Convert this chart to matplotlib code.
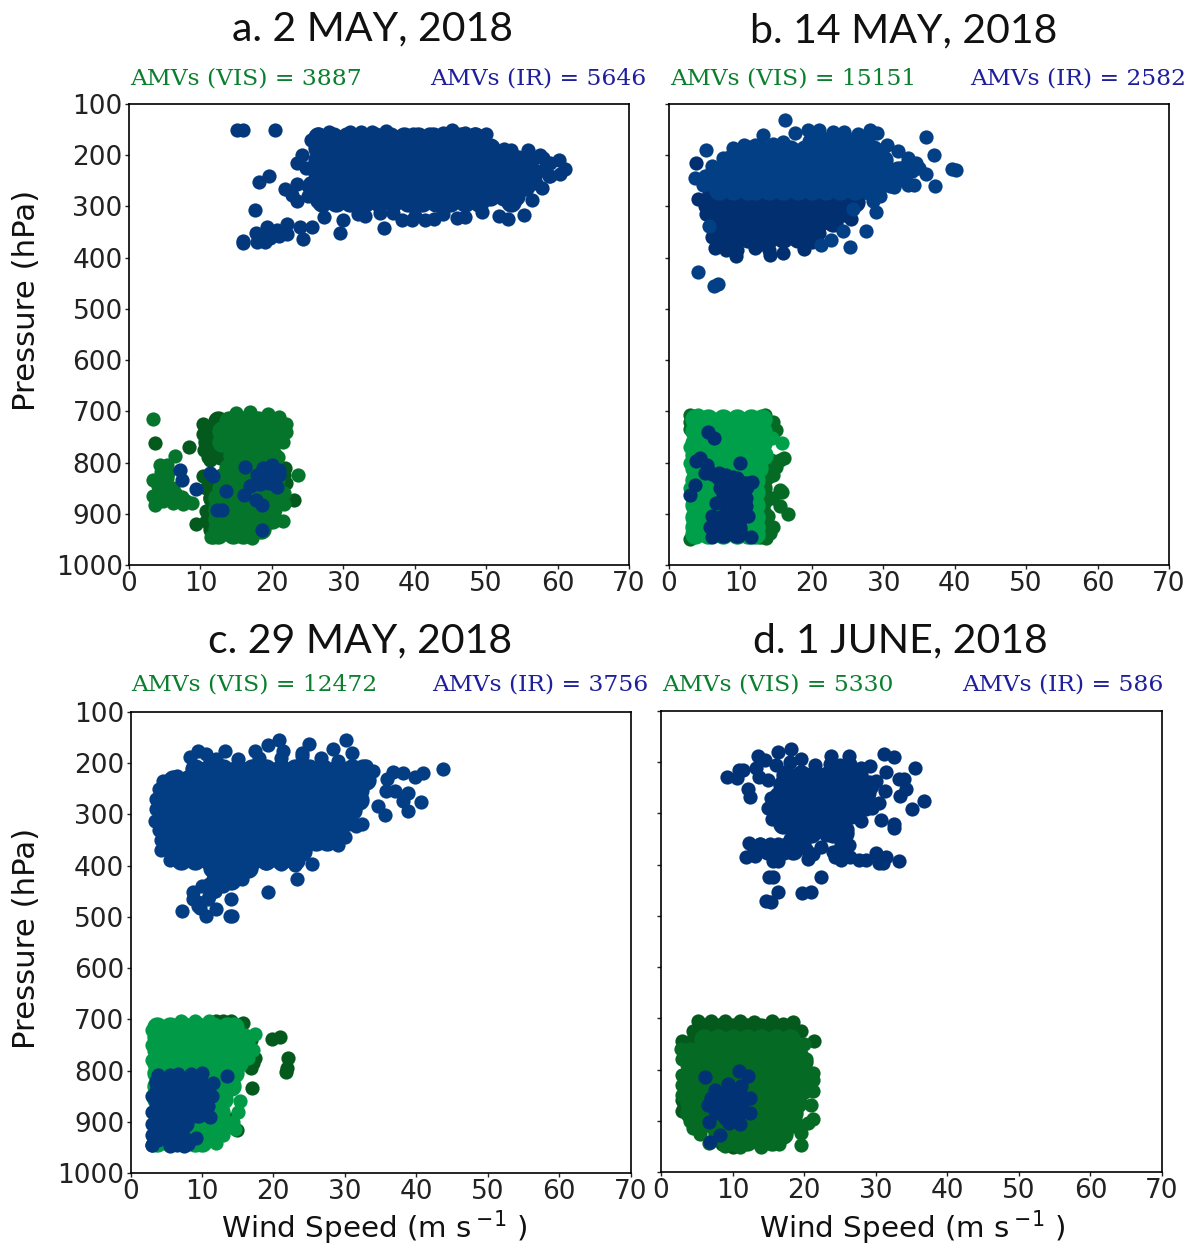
import matplotlib
matplotlib.use("Agg")
import matplotlib.pyplot as plt

titles = ["a. 2 MAY, 2018", "b. 14 MAY, 2018", "c. 29 MAY, 2018", "d. 1 JUNE, 2018"]
vis_counts = [3887, 15151, 12472, 5330]
ir_counts = [5646, 2582, 3756, 586]
pressure_ticks = [100, 200, 300, 400, 500, 600, 700, 800, 900, 1000]
speed_ticks = [0, 10, 20, 30, 40, 50, 60, 70]

# the solid parts of each cloud are read row by row (pressure, then speeds) and drawn with
# wide dots; the x_ lists are single dots read along the edges and outliers
# panel a
a_ir_p = [165, 185, 210, 235, 260, 280, 292]
a_ir_v = [
    [26.5, 28.5, 30.5, 32.5, 34.5, 36.5, 38.5, 40.5, 42.5, 44.5, 46.5, 48.5],
    [26.5, 28.5, 30.5, 32.5, 34.5, 36.5, 38.5, 40.5, 42.5, 44.5, 46.5, 48.5, 50.5],
    [26.5, 28.5, 30.5, 32.5, 34.5, 36.5, 38.5, 40.5, 42.5, 44.5, 46.5, 48.5, 50.5, 52.5, 54.5, 56],
    [26.5, 28.5, 30.5, 32.5, 34.5, 36.5, 38.5, 40.5, 42.5, 44.5, 46.5, 48.5, 50.5, 52.5, 54.5, 56.5],
    [26.5, 28.5, 30.5, 32.5, 34.5, 36.5, 38.5, 40.5, 42.5, 44.5, 46.5, 48.5, 50.5, 52.5, 54.5, 55.5],
    [26.5, 28.5, 30.5, 32.5, 34.5, 36.5, 38.5, 40.5, 42.5, 44.5, 46.5, 48.5, 50.5, 52.5, 54],
    [27, 29, 31, 33, 35, 37, 39, 41, 43, 45, 47, 49, 53.5],
]
a_ir_x_v = [15.1, 15.9, 20.5, 24.2, 23.5, 24.8, 19.6, 18.2, 23.5, 21.9, 22.8, 23.5, 17.7, 27.3, 30, 29.5, 35.7, 35.2,
            38.2, 39.6, 41.5, 42.7, 45.9, 49.4, 51.8, 53, 55.3, 56.4, 57.8, 60.2, 61.1, 60.3, 58.8, 55.8, 57.6, 45.2,
            16, 17.8, 17.9, 19.3, 19, 20.5, 22.1, 22.1, 24, 25.6, 24.3, 19.8, 16, 21,
            26.5, 28, 31, 32.5, 34, 36, 39.7, 42, 44, 47, 48.5, 50, 52.5, 53.5, 25.5, 25, 25.3, 32, 37, 33, 40, 44, 47, 58, 59,
            18.5, 20.7, 25, 26.3, 58.3, 59, 57]
a_ir_x_p = [151, 151, 151, 199, 215, 225, 240, 252, 257, 265, 277, 289, 306, 321, 327, 351, 342, 313,
            327, 326, 326, 325, 323, 310, 318, 324, 316, 287, 264, 210, 227, 236, 240, 189, 199, 151,
            368, 352, 370, 340, 370, 352, 334, 354, 340, 340, 363, 362, 372, 358,
            158, 154, 154, 154, 155, 152, 158, 158, 157, 157, 158, 158, 188, 190, 170, 280, 255, 314, 312, 318, 318, 315, 320, 205, 215,
            358, 346, 260, 290, 225, 240, 255]
a_ir_low_p = [818, 835]
a_ir_low_v = [
    [19, 20.2],
    [18.5, 19.8],
]
a_ir_low_x_v = [7.2, 7.4, 9.4, 11.4, 11.8, 13.6, 16.3, 16.1, 17.8, 18.6, 12.3, 13, 18.6, 18.8, 20, 21, 17.9, 19.4, 17.2, 18.4, 20.7, 20, 19, 21,
                19.8, 18, 16.9, 20.3]
a_ir_low_x_p = [814, 834, 852, 821, 826, 855, 809, 863, 873, 883, 892, 893, 931, 811, 804, 815, 824, 827, 843, 842, 847, 825, 815, 825,
                835, 835, 845, 815]
a_vis_p = [718, 738, 760, 785, 810, 830, 850, 870, 890, 910, 930, 940]
a_vis_v = [
    [14, 16, 18, 19],
    [13, 15, 17, 19, 20.5],
    [13, 15, 17, 19, 20],
    [14.5, 16, 18, 20],
    [14, 16, 18, 20],
    [13, 15, 17, 19, 20.5],
    [13, 15, 17, 19, 20.5],
    [12.5, 14.5, 16.5, 18.5, 20.5],
    [12.5, 14.5, 16.5, 18.5, 20],
    [12.5, 14.5, 16.5, 18.5, 20],
    [12.5, 14.5, 16.5, 18.5],
    [12.5, 14.5, 16],
]
a_vis_x_v = [3.3, 6.5, 4.3, 5.3, 4.5, 5.5, 3.3, 4.3, 5.3, 4, 5.2, 6.2, 3.4, 4.5, 5.6, 6.6, 3.6, 4.8, 6.2, 7.4, 8, 8.8, 7.5,
             23.7, 21.6, 20.8, 21.7, 11.5, 22, 22, 21.5, 21.7, 15, 17, 21, 19.5, 17.2]
a_vis_x_p = [715, 787, 805, 805, 818, 820, 834, 830, 830, 845, 845, 850, 865, 860, 860, 862, 882, 875, 879, 868, 875, 878, 880,
             824, 915, 790, 860, 945, 725, 740, 760, 880, 703, 702, 712, 705, 948]
a_dark_p = [718, 738, 760, 785, 840, 870, 905, 930]
a_dark_v = [
    [12.5],
    [11, 12.8],
    [11, 12.8],
    [12.9],
    [11.8],
    [11.8],
    [11.8],
    [11.8],
]
a_dark_x_v = [3.6, 8.4, 23.1, 9.4, 10.5, 11, 11.4, 10.4, 10.4, 10.3, 10.8, 11.3, 10.8, 10.8, 11.8, 21.7, 22, 21.9]
a_dark_x_p = [762, 770, 874, 920, 775, 790, 795, 827, 725, 745, 850, 870, 895, 915, 945, 825, 840, 810]

# panel b
b_ir_p = [175, 190, 210, 230, 250, 268]
b_ir_v = [
    [20, 22, 24, 26, 27.5],
    [11, 13, 15, 17, 19, 21, 23, 25, 27, 28.5],
    [8.5, 10.5, 12.5, 14.5, 16.5, 18.5, 20.5, 22.5, 24.5, 26.5, 28.5, 30],
    [6.5, 8.5, 10.5, 12.5, 14.5, 16.5, 18.5, 20.5, 22.5, 24.5, 26.5, 28.5, 30.5, 32, 33],
    [6, 8, 10, 12, 14, 16, 18, 20, 22, 24, 26, 28, 30, 31],
    [7, 9, 11, 12, 14, 16, 18, 20, 22, 24, 26, 28, 29],
]
b_ir_x_v = [16.3, 5.2, 3.7, 36, 37.1, 39.6, 40.2, 36, 37.3, 34.3, 33.5, 29, 27.6, 24.3, 25.4, 22.7, 21.3, 5.6, 4.1, 6.3, 6.9,
            13.1, 17.7, 19.5, 21, 23, 24.5, 26.5, 28.1, 29.1, 30.5, 32, 33.5, 34.6, 35, 9, 10.5, 7.5, 6, 5, 4.7, 12, 14.5, 16, 31, 32.5, 29.5, 28.5,
            6.5, 5.8, 7, 12, 16, 8.6, 15, 25.8, 33, 34, 32.5, 31.5]
b_ir_x_p = [132, 189, 245, 164, 199, 227, 228, 236, 260, 258, 258, 311, 347, 347, 380, 366, 375, 339, 428, 455, 451,
            160, 157, 151, 151, 155, 155, 158, 151, 157, 181, 192, 205, 215, 225, 185, 180, 205, 222, 240, 258, 180, 178, 175, 260, 245, 280, 290,
            265, 255, 250, 265, 245, 240, 200, 305, 222, 230, 248, 262]
b_dark_p = [275, 292, 310, 330, 350, 362]
b_dark_v = [
    [6, 8, 10, 12, 14, 16, 18],
    [6, 8, 10, 12, 14, 16, 18, 20, 22, 24, 26],
    [6.5, 8.5, 10.5, 12.5, 14.5, 16.5, 18.5, 20.5, 22.5, 24.5],
    [7, 9, 11, 13, 15, 17, 19, 21, 23],
    [8, 10, 12, 14, 16, 18, 20],
    [9, 11, 14, 16, 18],
]
b_dark_x_v = [3.8, 4, 9.4, 14.1, 5, 5.2, 6, 6.4, 8, 9.5, 12, 14, 15.9, 18.9, 20, 7, 21, 19, 12.5, 25.5]
b_dark_x_p = [215, 285, 397, 394, 300, 315, 360, 381, 385, 385, 382, 385, 390, 384, 370, 370, 352, 370, 375, 325]
b_vis_p = [714, 738, 762, 786, 810, 834, 858, 882, 906, 925, 940]
b_vis_v = [
    [3.6, 5.5, 7.5, 9.5, 11.5, 13],
    [3.6, 5.5, 7.5, 9.5, 11.5, 13],
    [3.6, 5.5, 7.5, 9.5, 11.5, 13],
    [3.6, 5.5, 7.5, 9.5, 11.5, 13.2],
    [3.6, 5.5, 7.5, 9.5, 11, 12.5],
    [3.6, 5.5, 7.5, 9.5, 11, 12],
    [3.6, 5.5, 7.5, 9.5, 11, 12],
    [3.6, 5.5, 7.5, 9.5, 11, 12],
    [3.6, 5.5, 7.5, 9.5, 11, 12],
    [3.6, 5.5, 7.5, 9.5, 11, 12],
    [3.6, 5.5, 7.5, 9.5, 11, 12],
]
b_vis_dark_p = [800, 825, 850, 875, 900, 925, 940]
b_vis_dark_v = [
    [14.2],
    [13.6],
    [13],
    [13],
    [13],
    [13],
    [12.8],
]
b_vis_x_v = [4, 14.4, 15.8, 3, 3, 3]
b_vis_x_p = [708, 752, 761, 770, 800, 850]
b_vis_dark_x_v = [3, 3, 3, 3.2, 3, 13.5, 13.7, 14.5, 15, 16.1, 15.5, 15, 14.5, 15.5, 15.8, 14.6, 15.6, 16.6, 14.6, 14.2, 13.6, 13.8]
b_vis_dark_x_p = [708, 720, 735, 945, 950, 708, 725, 720, 736, 791, 795, 808, 825, 853, 858, 870, 884, 900, 925, 938, 948, 905]
b_ir_low_p = [845, 870, 890, 910, 928, 938]
b_ir_low_v = [
    [10.5],
    [9.5],
    [8.5, 10],
    [7.5, 9.5],
    [7.5, 9.5],
    [7.5, 9.5],
]
b_ir_low_x_v = [5.4, 6.3, 3.8, 4.4, 5.3, 9.9, 5, 6.9, 3.6, 2.9, 7.1, 11.6, 10, 10.4, 6.6, 8.6, 8, 6.5, 9, 9, 6, 7, 8, 9.5, 11, 10.8, 11, 5.8, 6, 11.5, 8, 8.5, 9.5, 10.5, 7.5, 10.8, 5.5, 6, 7, 8, 9]
b_ir_low_x_p = [741, 752, 797, 792, 804, 801, 821, 830, 843, 864, 850, 837, 840, 863, 879, 853, 835, 825, 840, 870, 905, 820, 825, 830, 840, 885, 905, 925, 945, 945, 880, 870, 880, 850, 862, 870, 815, 822, 825, 828, 828]

# panel c
c_ir_p = [212, 232, 252, 272, 292, 312, 332, 352, 372, 388, 405, 428]
c_ir_v = [
    [9, 11, 13, 15, 17, 19, 21, 23, 25, 27, 29, 31, 32.5],
    [6, 8, 10, 12, 14, 16, 18, 20, 22, 24, 26, 28, 30, 32, 33],
    [5.5, 7.5, 9.5, 11.5, 13.5, 15.5, 17.5, 19.5, 21.5, 23.5, 25.5, 27.5, 29.5, 31.5, 32],
    [5, 7, 9, 11, 13, 15, 17, 19, 21, 23, 25, 27, 29, 31, 32],
    [5, 7, 9, 11, 13, 15, 17, 19, 21, 23, 25, 27, 29, 31],
    [5, 7, 9, 11, 13, 15, 17, 19, 21, 23, 25, 27, 29, 30.5],
    [5.5, 7.5, 9.5, 11.5, 13.5, 15.5, 17.5, 19.5, 21.5, 23.5, 25.5, 27.5, 29],
    [6, 8, 10, 12, 14, 16, 18, 20, 22, 24, 26, 27.5],
    [6, 8, 10, 12, 14, 16, 18, 20, 22, 24],
    [7, 9, 11, 13, 15, 17, 19, 21, 23],
    [11.5, 13.5, 15.5, 16.5],
    [12, 14],
]
c_ir_x_v = [8.3, 9.5, 13.2, 17.4, 19.2, 20.8, 25, 28.3, 30.1, 31, 21.4, 24, 26.7, 10.5, 4.3, 5.5, 3.4, 23.3, 19.2, 14, 8.7, 11.8,
            7.2, 10.6, 13.9, 14.2, 12, 9.5, 10.9, 9.7, 43.8, 40.9, 39.9, 38.2, 36.8, 35.9, 37, 38.9, 40.6, 38.2, 38.8, 35.6, 34.7, 35.7, 32.4, 31.5,
            12, 15, 18, 21, 24, 29, 33, 34, 4, 4.5, 3.5, 3.6, 4, 4.3, 25.4, 23, 21, 19, 16, 14, 12, 11, 15.6, 10, 13, 11.8, 6.5, 5, 29, 30,
            8.7, 9.5, 11]
c_ir_x_p = [187, 177, 177, 177, 164, 155, 162, 172, 154, 180, 177, 180, 190, 182, 369, 388, 312, 426, 452, 466, 452, 450,
            489, 499, 498, 498, 485, 470, 466, 483, 211, 219, 226, 219, 217, 230, 254, 258, 276, 273, 294, 302, 284, 255, 318, 323,
            192, 192, 190, 190, 186, 195, 205, 215, 250, 235, 270, 290, 330, 350, 396, 398, 397, 395, 400, 410, 425, 435, 427, 440, 440, 450, 225, 250, 360, 345,
            466, 478, 460]
c_vis_p = [715, 735, 760, 785, 805, 830, 855, 880, 905, 925, 940]
c_vis_v = [
    [3.7, 5.5, 7.5, 9.5, 11.5, 13.5, 14.5],
    [3.7, 5.5, 7.5, 9.5, 11.5, 13.5, 15],
    [3.7, 5.5, 7.5, 9.5, 11.5, 13.5, 15.5],
    [3.7, 5.5, 7.5, 9.5, 11.5, 13.5, 15],
    [3.7, 5.5, 7.5, 9.5, 11.5, 13.5, 14.5],
    [3.7, 5.5, 7.5, 9.5, 11.5, 13.5, 14],
    [3.7, 5.5, 7.5, 9.5, 11.5, 13],
    [3.7, 5.5, 7.5, 9.5, 11.5, 12.5],
    [3.7, 5.5, 7.5, 9.5, 11.5, 12.5],
    [3.7, 5.5, 7.5, 9.5, 11],
    [3.7, 5.5, 7.5, 9, 10],
]
c_vis_x_v = [17.4, 17.2, 16.5, 15.3, 14.6, 3, 3, 3, 13, 12, 14.3, 15, 7, 9, 11, 16, 16.5]
c_vis_x_p = [729, 760, 745, 860, 914, 720, 750, 780, 926, 942, 900, 880, 703, 703, 703, 730, 775]
c_dark_v = [19.8, 20.9, 22.1, 21.9, 21.7, 17, 16.8, 17.4, 14.9, 15.8, 14, 12, 13, 16.5, 16, 16.5, 14.2, 15.5, 17.2, 16.8]
c_dark_p = [739, 735, 775, 795, 802, 834, 795, 775, 917, 707, 703, 703, 703, 750, 760, 785, 895, 725, 785, 740]
c_ir_low_p = [822, 842, 862, 882, 902, 930]
c_ir_low_v = [
    [4, 6, 8, 9.5],
    [4, 6, 8, 10],
    [4, 6, 8, 10],
    [4, 6, 8, 9.5],
    [4, 5.5, 7.5],
    [3.7],
]
c_ir_low_x_v = [13.5, 3.8, 5.5, 6.7, 8.5, 10, 11.5, 11.4, 3, 3, 3, 3, 11.1, 6.5, 7.5, 9.2, 8, 5.5, 6.5, 7.5, 5, 3, 3, 10.8]
c_ir_low_x_p = [811, 808, 808, 806, 806, 805, 825, 850, 850, 880, 905, 945, 890, 930, 930, 932, 944, 948, 946, 948, 930, 925, 945, 870]

# panel d
d_ir_p = [225, 245, 265, 285, 302, 320, 338, 372, 378]
d_ir_v = [
    [17.5, 19.5, 21.5, 23.5, 25.5, 27.5],
    [17, 19, 21, 23, 25, 27, 29],
    [16.5, 18.5, 20.5, 22.5, 24.5, 26.5, 28.5],
    [16.5, 18.5, 20.5, 22.5, 24.5, 26.5, 28.5],
    [16.5, 18.5, 20.5, 22.5, 24.5, 26.5],
    [17, 19, 21, 23, 25],
    [19, 21, 24, 25.5],
    [15, 17, 18.5],
    [25],
]
d_ir_x_v = [9.2, 10.6, 11.4, 10.9, 12.1, 12.5, 13.5, 14.6, 16.4, 18.1, 19.5, 13.3, 13.7, 23.8, 26.3, 23.6, 26.4, 29.2, 31.2, 32.5, 35.5, 31.4,
            30.1, 33.2, 33.9, 31.3, 34.3, 33.4, 36.7, 35, 27.9, 30.8, 32.5, 32.6, 23.1, 22.3, 11.9, 13.8, 15.1, 15.6, 22.3, 16.4, 19.7, 20.9, 14.7, 15.4,
            16, 18, 21.5, 25, 28, 15, 15.3, 15, 15.5, 17, 19, 21, 23, 24.5, 25.5, 20, 18, 19.5, 17.5, 25.2, 29.5, 30.5, 24.8, 26, 29,
            12.3, 13.1, 13.8, 15.2, 16.3, 17.5, 18.5, 15.7, 16.4, 20.3, 20.5, 21.3, 24, 24.3, 25.2, 26.2, 26.4, 27.6, 28.7, 30.1, 30.4, 31, 31.5, 33.2, 13, 14.2, 19, 20]
d_ir_x_p = [228, 230, 216, 216, 253, 268, 187, 196, 180, 175, 194, 211, 228, 188, 188, 204, 204, 207, 183, 190, 211, 220,
            237, 233, 233, 256, 253, 266, 275, 291, 314, 312, 321, 328, 343, 365, 386, 360, 425, 425, 425, 453, 455, 453, 471, 472,
            205, 200, 205, 205, 212, 235, 270, 290, 310, 325, 330, 335, 330, 335, 345, 345, 350, 355, 360, 362, 290, 280, 320, 330, 260,
            357, 383, 360, 360, 360, 362, 368, 393, 393, 370, 388, 380, 375, 385, 390, 362, 385, 390, 391, 377, 396, 396, 386, 393, 370, 365, 360, 355]
d_vis_p = [740, 765, 790, 815, 840, 865, 885, 905, 925, 940]
d_vis_v = [
    [6, 8, 10, 12, 14, 16, 18],
    [4, 6, 8, 10, 12, 14, 16, 18, 18.5],
    [4, 6, 8, 10, 12, 14, 16, 18, 18.5],
    [4, 6, 8, 10, 12, 14, 16, 18, 19.7],
    [4, 6, 8, 10, 12, 14, 16, 18, 19.7],
    [4, 6, 8, 10, 12, 14, 16, 18, 19],
    [4, 6, 8, 10, 12, 14, 16, 18, 18.5],
    [5, 7, 9, 11, 13, 15, 17, 18.5],
    [8, 10, 12, 14, 16, 17],
    [10, 12, 14, 15.5],
]
d_vis_x_v = [2.8, 3, 3, 3, 3, 20, 20.2, 21.2, 21.2, 21.3, 21, 21.3, 20.5, 19.5, 19.5, 4, 4.5, 5.5, 7.5, 6.7, 9, 11, 14, 16.5, 19.5, 20.3]
d_vis_x_p = [760, 780, 810, 830, 850, 750, 780, 806, 820, 842, 870, 896, 905, 924, 948, 900, 915, 925, 935, 943, 950, 952, 952, 945, 770, 800]
d_dark_p = [718, 732]
d_dark_v = [
    [6, 8, 10, 12, 14, 16, 18],
    [6, 8, 10, 12, 14, 16, 18],
]
d_dark_x_v = [21.4, 20.3, 3, 3, 3, 8.5, 10, 5.2, 7, 9, 11, 13, 15.5, 18.4, 19.5, 4.5, 4.5, 17, 3.2]
d_dark_x_p = [745, 785, 860, 880, 745, 945, 952, 705, 705, 705, 705, 708, 705, 708, 725, 725, 740, 712, 872]
d_ir_low_p = [860, 880]
d_ir_low_v = [
    [8.5, 10, 11],
    [9, 10],
]
d_ir_low_x_v = [6.2, 10.9, 12.1, 9.3, 7.5, 11.2, 7, 8.5, 10, 11.5, 12.5, 6.5, 8, 9.5, 11, 8, 9.5, 11, 12.5, 6.7, 9.5, 11.1, 8.2, 6.8, 9, 8.9,
                8.5, 10, 8, 10, 11, 9.5, 9, 10.3, 7.5, 9, 10.3]
d_ir_low_x_p = [815, 803, 813, 829, 839, 832, 855, 855, 855, 855, 855, 870, 870, 870, 870, 885, 885, 885, 885, 903, 904, 907, 927, 942, 895, 845,
                845, 845, 860, 865, 845, 840, 875, 878, 880, 892, 892]


def flat(ps, rows):
    xs = []
    ys = []
    for p, row in zip(ps, rows):
        for v in row:
            xs.append(v)
            ys.append(p)
    return xs, ys


BLUE = "#03397c"
BLUE2 = "#022f70"
GREEN_A = "#04752a"
GREEN_B = "#00a04b"
GREEN_C = "#019a47"
GREEN_D = "#046a24"
DARK = "#035a1c"
BIG = 215
SMALL = 105

plt.rcParams["font.family"] = "DejaVu Sans"
fig = plt.figure(figsize=(11.95, 12.47), dpi=100)
W = 1195.0
H = 1247.0
boxes = [(129, 104, 500, 461), (669, 104, 500, 461), (130.5, 712, 500, 461), (661, 711, 501, 461)]
axs = []
for i, (l, t, w, h) in enumerate(boxes):
    ax = fig.add_axes([l / W, 1 - (t + h) / H, w / W, h / H])
    ax.set_xlim(0, 70)
    ax.set_ylim(1000, 100)
    ax.set_xticks(speed_ticks)
    ax.set_yticks(pressure_ticks)
    ax.tick_params(labelsize=19, length=3, width=1, pad=1.5, colors="#222222")
    for s in ax.spines.values():
        s.set_linewidth(1.2)
    if i % 2 == 1:
        ax.set_yticklabels([])
    axs.append(ax)


def rows(ax, ps, vs, color, z):
    x, y = flat(ps, vs)
    ax.scatter(x, y, s=BIG, c=color, linewidths=0, zorder=z)


def dots(ax, xs, ys, color, z):
    ax.scatter(xs, ys, s=SMALL, c=color, linewidths=0, zorder=z)


# a
ax = axs[0]
dots(ax, a_dark_x_v, a_dark_x_p, DARK, 2)
rows(ax, a_dark_p, a_dark_v, DARK, 2)
rows(ax, a_vis_p, a_vis_v, GREEN_A, 3)
dots(ax, a_vis_x_v, a_vis_x_p, GREEN_A, 3)
rows(ax, a_ir_p, a_ir_v, BLUE, 4)
dots(ax, a_ir_x_v, a_ir_x_p, BLUE, 4)
rows(ax, a_ir_low_p, a_ir_low_v, BLUE, 4)
dots(ax, a_ir_low_x_v, a_ir_low_x_p, BLUE, 4)
# b
ax = axs[1]
dots(ax, b_vis_dark_x_v, b_vis_dark_x_p, GREEN_D, 2)
rows(ax, b_vis_dark_p, b_vis_dark_v, GREEN_D, 2)
rows(ax, b_vis_p, b_vis_v, GREEN_B, 3)
dots(ax, b_vis_x_v, b_vis_x_p, GREEN_B, 3)
rows(ax, b_dark_p, b_dark_v, BLUE2, 4)
dots(ax, b_dark_x_v, b_dark_x_p, BLUE2, 4)
rows(ax, b_ir_p, b_ir_v, "#033f85", 5)
dots(ax, b_ir_x_v, b_ir_x_p, "#033f85", 5)
rows(ax, b_ir_low_p, b_ir_low_v, BLUE2, 5)
dots(ax, b_ir_low_x_v, b_ir_low_x_p, BLUE2, 5)
# c
ax = axs[2]
dots(ax, c_dark_v, c_dark_p, DARK, 2)
rows(ax, c_vis_p, c_vis_v, GREEN_C, 3)
dots(ax, c_vis_x_v, c_vis_x_p, GREEN_C, 3)
rows(ax, c_ir_p, c_ir_v, "#033d83", 4)
dots(ax, c_ir_x_v, c_ir_x_p, "#033d83", 4)
rows(ax, c_ir_low_p, c_ir_low_v, BLUE, 4)
dots(ax, c_ir_low_x_v, c_ir_low_x_p, BLUE, 4)
# d
ax = axs[3]
rows(ax, d_dark_p, d_dark_v, DARK, 2)
dots(ax, d_dark_x_v, d_dark_x_p, DARK, 2)
rows(ax, d_vis_p, d_vis_v, GREEN_D, 3)
dots(ax, d_vis_x_v, d_vis_x_p, GREEN_D, 3)
rows(ax, d_ir_p, d_ir_v, "#023276", 4)
dots(ax, d_ir_x_v, d_ir_x_p, "#023276", 4)
rows(ax, d_ir_low_p, d_ir_low_v, "#023276", 4)
dots(ax, d_ir_low_x_v, d_ir_low_x_p, "#023276", 4)

# titles and counts
title_x = [373, 904, 360, 900]
title_y = [29, 31, 641, 641]
vis_x = [130, 670, 131, 662]
ir_r = [646, 1186, 648, 1164]
count_y = [78, 78, 685, 684]
for i in range(4):
    fig.text(title_x[i] / W, 1 - title_y[i] / H, titles[i], fontsize=29.5, family="Lato", ha="center", va="center", color="#111111")
    fig.text(vis_x[i] / W, 1 - count_y[i] / H, "AMVs (VIS) = %d" % vis_counts[i], fontsize=16.8, family="DejaVu Serif",
             color="#0a7f2e", ha="left", va="center")
    fig.text(ir_r[i] / W, 1 - count_y[i] / H, "AMVs (IR) = %d" % ir_counts[i], fontsize=16.8, family="DejaVu Serif",
             color="#1f1f9c", ha="right", va="center")

fig.text(27 / W, 1 - 300 / H, "Pressure (hPa)", fontsize=22.2, rotation=90, ha="center", va="center", color="#111111")
fig.text(27 / W, 1 - 938 / H, "Pressure (hPa)", fontsize=22.2, rotation=90, ha="center", va="center", color="#111111")
fig.text(374 / W, 1 - 1228 / H, r"Wind Speed (m s$\,^{-1}$ )", fontsize=21.2, ha="center", va="center", color="#111111")
fig.text(912 / W, 1 - 1228 / H, r"Wind Speed (m s$\,^{-1}$ )", fontsize=21.2, ha="center", va="center", color="#111111")

fig.savefig("out.png", dpi=100)
